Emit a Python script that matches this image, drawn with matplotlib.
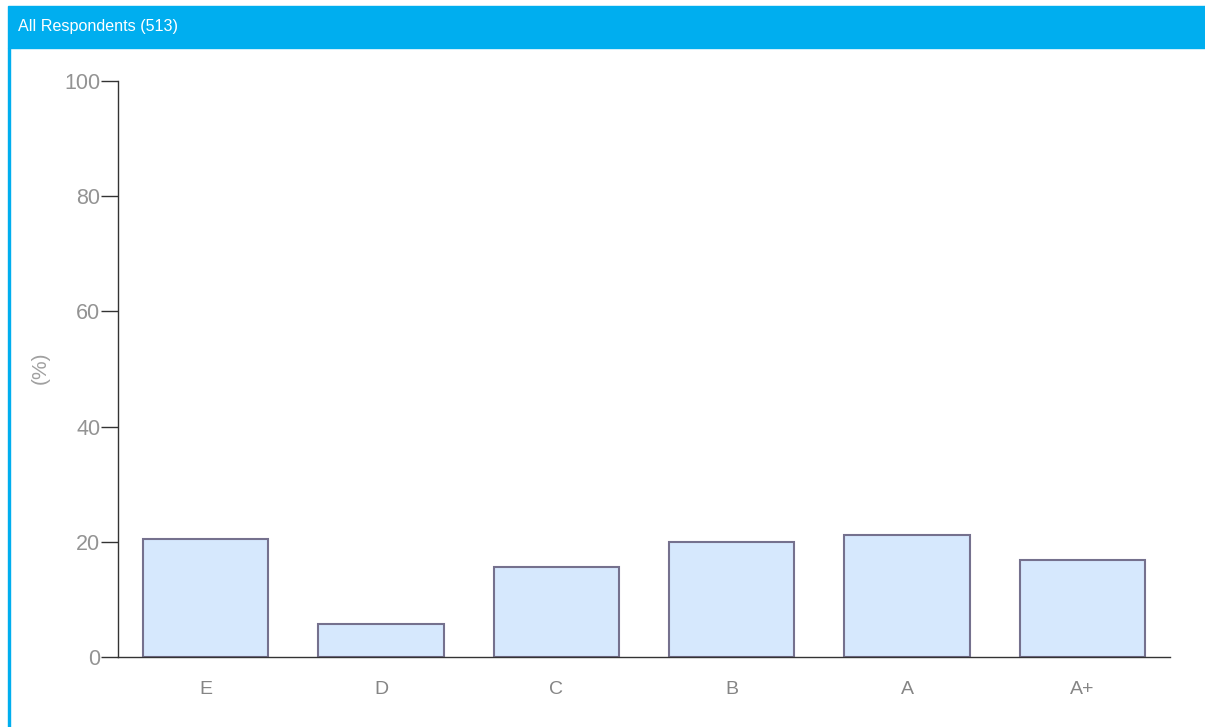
import matplotlib.pyplot as plt
from matplotlib.patches import Rectangle

plt.rcParams['font.family'] = ['Liberation Sans', 'DejaVu Sans']

# Data
grades = ['E', 'D', 'C', 'B', 'A', 'A+']
percent = [20.5, 5.7, 15.7, 19.9, 21.1, 16.8]
title = 'All Respondents (513)'

W, H = 1205, 727
fig = plt.figure(figsize=(W / 100, H / 100), dpi=100)
fig.patch.set_facecolor('white')

blue = '#00AEEF'
# header bar and left border
fig.patches.append(Rectangle((8 / W, (H - 48) / H), (W - 8) / W, 42 / H,
                             transform=fig.transFigure, color=blue, zorder=0))
fig.patches.append(Rectangle((8 / W, 0), 2 / W, (H - 48) / H,
                             transform=fig.transFigure, color=blue, zorder=0))
fig.text(18 / W, (H - 27) / H, title, color='white', fontsize=11.6,
         va='center', ha='left')

ax = fig.add_axes([118 / W, (H - 657) / H, 1052 / W, 576 / H])
x = list(range(len(grades)))
ax.bar(x, percent, width=0.713, color='#D6E8FD', edgecolor='#75718E',
       linewidth=1.5, zorder=2)

ax.set_xlim(-0.5, len(grades) - 0.5)
ax.set_ylim(0, 100)
ax.set_yticks([0, 20, 40, 60, 80, 100])
ax.set_xticks(x)
ax.set_xticklabels(grades)

for side in ['top', 'right']:
    ax.spines[side].set_visible(False)
for side in ['left', 'bottom']:
    ax.spines[side].set_color('#333333')
    ax.spines[side].set_linewidth(1)

# tick length in points: 17 px
ax.tick_params(axis='y', length=12.2, width=1, color='#333333',
               labelcolor='#939393', labelsize=15.5, pad=0.5)
ax.tick_params(axis='x', length=0, labelcolor='#858585', labelsize=14, pad=17)

fig.text(40 / W, (H - 368) / H, '(%)', rotation=90, color='#A0A0A0',
         fontsize=15, ha='center', va='center')

plt.savefig('out.png', dpi=100)
